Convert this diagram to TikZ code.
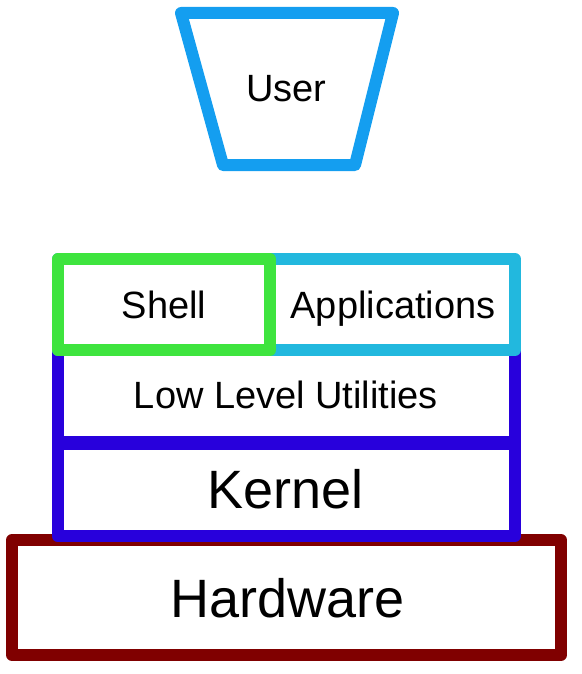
\documentclass[tikz,border=0pt]{standalone}
\usepackage{fontspec}
\setmainfont{Liberation Sans}
\definecolor{userblue}{RGB}{20,158,240}
\definecolor{shellgreen}{RGB}{62,228,62}
\definecolor{appcyan}{RGB}{34,184,222}
\definecolor{kernblue}{RGB}{40,0,220}
\definecolor{hwred}{RGB}{128,0,0}
\tikzset{
  frame/.style={line width=12pt, line join=round},
  smalltxt/.style={font=\fontsize{38}{40}\selectfont, anchor=base, inner sep=0pt},
  bigtxt/.style={font=\fontsize{54}{56}\selectfont, anchor=base, inner sep=0pt}
}
\begin{document}
\begin{tikzpicture}[x=1pt,y=-1pt]
\useasboundingbox (0,0) rectangle (581,674);
% User trapezoid
\draw[frame, userblue] (181,13) -- (393,13) -- (355,165) -- (223,165) -- cycle;
% Hardware
\draw[frame, hwred] (12,540) rectangle (561,655);
% Low level utilities + kernel
\draw[frame, kernblue] (57.5,350) rectangle (515,536);
\draw[line width=14pt, kernblue] (57.5,443) -- (515,443);
% Applications
\draw[frame, appcyan] (58,259) rectangle (515,350);
% Shell
\draw[frame, shellgreen] (58,259) rectangle (270,350);
% Texts
\node[smalltxt] (user) at (286.5,102) {User};
\node[smalltxt] (shell) at (164,318) {Shell};
\node[smalltxt] (apps) at (393,318) {Applications};
\node[smalltxt] (llu) at (286,408) {Low Level Utilities};
\node[bigtxt] (kernel) at (285.5,508) {Kernel};
\node[bigtxt] (hw) at (287.5,617) {Hardware};
\end{tikzpicture}
\end{document}
